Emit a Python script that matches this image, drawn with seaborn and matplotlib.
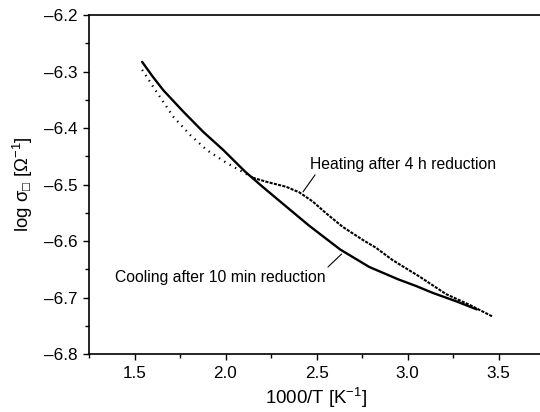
import matplotlib
matplotlib.use("Agg")
import matplotlib.pyplot as plt
import seaborn as sns
import pandas as pd
from matplotlib.ticker import MultipleLocator

# Cooling after 10 min reduction (solid)
cool_x = [1.542, 1.600, 1.658, 1.768, 1.878, 1.988, 2.107, 2.200, 2.300, 2.460,
          2.630, 2.790, 2.870, 2.950, 3.050, 3.140, 3.270, 3.380]
cool_y = [-6.283, -6.309, -6.333, -6.371, -6.407, -6.439, -6.477, -6.503, -6.530, -6.573,
          -6.615, -6.646, -6.657, -6.668, -6.680, -6.692, -6.707, -6.721]

# Heating after 4 h reduction (dotted)
heat_x = [1.542, 1.621, 1.713, 1.805, 1.897, 2.007, 2.107, 2.150, 2.223, 2.333, 2.406,
          2.479, 2.553, 2.644, 2.754, 2.827, 2.919, 2.990, 3.066, 3.212, 3.341, 3.469]
heat_y = [-6.297, -6.336, -6.380, -6.412, -6.439, -6.462, -6.480, -6.488, -6.495, -6.504, -6.514,
          -6.530, -6.551, -6.575, -6.598, -6.612, -6.634, -6.648, -6.663, -6.694, -6.713, -6.734]
heat_split = 7  # sparse dots before the crossing, dense after

x_ticks = [1.5, 2.0, 2.5, 3.0, 3.5]
y_ticks = [-6.8, -6.7, -6.6, -6.5, -6.4, -6.3, -6.2]

sns.set_theme(style="ticks")
plt.rcParams['font.family'] = ['Liberation Sans', 'DejaVu Sans']
plt.rcParams['mathtext.fontset'] = 'custom'
plt.rcParams['mathtext.rm'] = 'Liberation Sans'
plt.rcParams['mathtext.it'] = 'Liberation Sans:italic'
plt.rcParams['text.color'] = 'black'
plt.rcParams['axes.labelcolor'] = 'black'

fig = plt.figure(figsize=(5.4, 4.12), dpi=100)
W, H = 540, 412
left, right, top, bottom = 89, 544, 15, 354
ax = fig.add_axes([left / W, 1 - bottom / H, (right - left) / W, (bottom - top) / H])

cool = pd.DataFrame({"x": cool_x, "y": cool_y})
heat1 = pd.DataFrame({"x": heat_x[:heat_split + 1], "y": heat_y[:heat_split + 1]})
heat2 = pd.DataFrame({"x": heat_x[heat_split:], "y": heat_y[heat_split:]})
sns.lineplot(data=cool, x="x", y="y", ax=ax, color="black", lw=1.7, sort=False)
sns.lineplot(data=heat1, x="x", y="y", ax=ax, color="black", lw=1.6,
             linestyle=(0, (0.6, 2.2)), sort=False)
sns.lineplot(data=heat2, x="x", y="y", ax=ax, color="black", lw=1.5,
             linestyle=(0, (1.5, 0.6)), sort=False)

ax.set_xlim(1.25, 3.75)
ax.set_ylim(-6.8, -6.2)
ax.set_xticks(x_ticks)
ax.set_yticks(y_ticks)
ax.xaxis.set_minor_locator(MultipleLocator(0.25))
ax.yaxis.set_minor_locator(MultipleLocator(0.05))
ax.set_xticklabels([f"{v:.1f}" for v in x_ticks])
ax.set_yticklabels([f"\u2013{abs(v):.1f}" for v in y_ticks])
ax.tick_params(which="major", direction="out", length=4.5, width=1.0, labelsize=12.3,
               colors="black", pad=4)
ax.tick_params(which="minor", direction="out", length=3, width=1.0, colors="black")
for s in ["left", "bottom", "top"]:
    ax.spines[s].set_linewidth(1.2)
    ax.spines[s].set_color("black")
ax.spines["right"].set_visible(False)

ax.set_xlabel("1000/T [K$^{\u22121}$]", fontsize=13.4, labelpad=4)
ax.set_ylabel("log \u03c3$_{\u25a1}$ [\u03a9$^{\u22121}$]", fontsize=13.4, labelpad=6)

ax.text(2.464, -6.464, "Heating after 4 h reduction", fontsize=11.3, ha="left", va="center")
ax.plot([2.492, 2.426], [-6.483, -6.513], color="black", lw=0.8)
ax.text(1.393, -6.665, "Cooling after 10 min reduction", fontsize=11.3, ha="left", va="center")
ax.plot([2.563, 2.638], [-6.646, -6.623], color="black", lw=0.8)

fig.savefig("out.png", dpi=100)
